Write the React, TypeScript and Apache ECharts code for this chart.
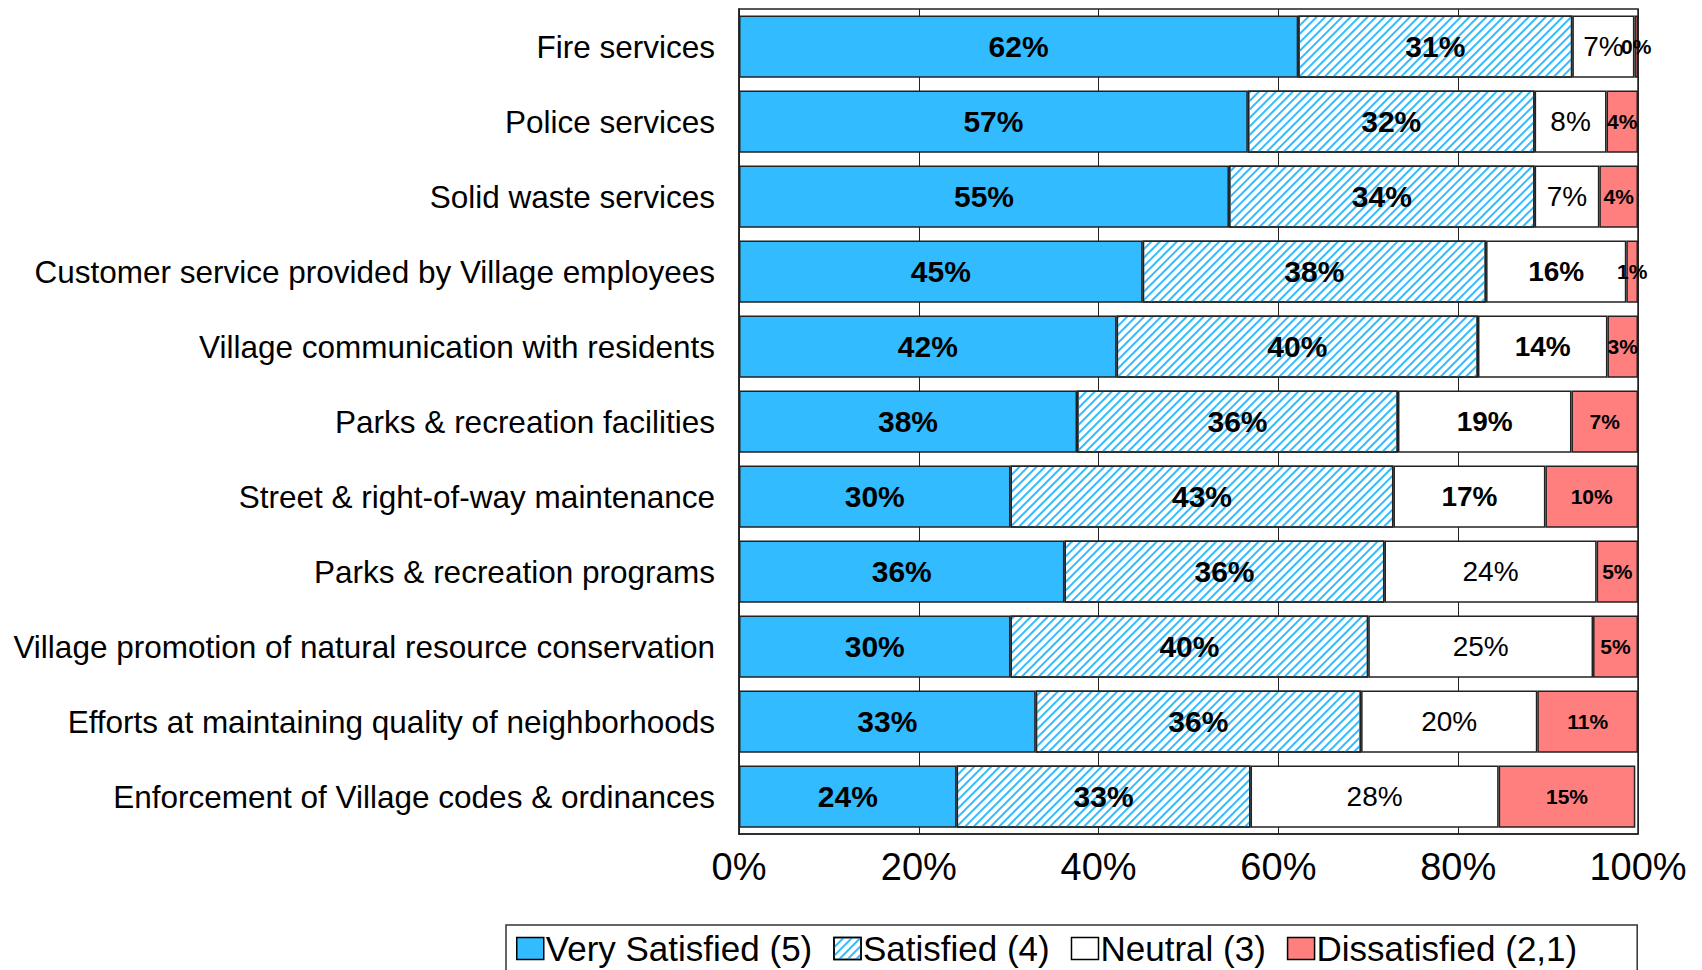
import React, { useEffect, useRef } from "react";
import * as echarts from "echarts";

const categories = [
  "Fire services",
  "Police services",
  "Solid waste services",
  "Customer service provided by Village employees",
  "Village communication with residents",
  "Parks & recreation facilities",
  "Street & right-of-way maintenance",
  "Parks & recreation programs",
  "Village promotion of natural resource conservation",
  "Efforts at maintaining quality of neighborhoods",
  "Enforcement of Village codes & ordinances",
];

const verySatisfied = [62.2, 56.6, 54.5, 44.9, 42.0, 37.6, 30.2, 36.2, 30.2, 33.0, 24.2];
const satisfied = [30.5, 31.9, 34.0, 38.2, 40.2, 35.7, 42.6, 35.6, 39.8, 36.2, 32.7];
const neutral = [6.9, 8.0, 7.2, 15.6, 14.4, 19.3, 16.9, 23.6, 25.0, 19.6, 27.6];
const dissatisfied = [0.4, 3.5, 4.3, 1.3, 3.4, 7.4, 10.3, 4.6, 5.0, 11.2, 15.2];

const seriesNames = ["Very Satisfied (5)", "Satisfied (4)", "Neutral (3)", "Dissatisfied (2,1)"];
const xTicks = [0, 20, 40, 60, 80, 100];

const boldNeutralRows = [3, 4, 5, 6];

const FONT = "'Liberation Sans', Arial, sans-serif";
const BLUE = "#33bbff";
const RED = "#ff7f7f";

export default function App() {
  const ref = useRef<HTMLDivElement>(null);
  useEffect(() => {
    if (!ref.current) return;
    const chart = echarts.init(ref.current, null, { renderer: "svg" });
    const pct = (p: any) => Math.round(p.value) + "%";
    const border = { borderColor: "#222", borderWidth: 1.5 };
    const option: any = {
      animation: false,
      backgroundColor: "#fff",
      textStyle: { fontFamily: FONT, color: "#000" },
      grid: {
        left: 739,
        right: 64,
        top: 9,
        bottom: 136,
        show: true,
        borderColor: "#222",
        borderWidth: 1.5,
        backgroundColor: "transparent",
      },
      legend: {
        data: seriesNames,
        left: 506,
        top: 925,
        orient: "horizontal",
        icon: "rect",
        itemWidth: 27,
        itemHeight: 22,
        itemGap: 21,
        padding: [6, 60, 10, 10],
        borderColor: "#333",
        borderWidth: 1.5,
        textStyle: { fontFamily: FONT, fontSize: 35, color: "#000", padding: [0, 0, 0, -3] },
        itemStyle: { borderColor: "#000", borderWidth: 1.5 },
      },
      xAxis: {
        type: "value",
        min: 0,
        max: 100,
        interval: 20,
        axisLine: { show: true, lineStyle: { color: "#222", width: 1.5 } },
        axisTick: { show: false },
        splitLine: { show: true, lineStyle: { color: "#222", width: 1 } },
        axisLabel: {
          margin: 14,
          fontFamily: FONT,
          fontSize: 38,
          color: "#000",
          formatter: (v: number) => (xTicks.includes(v) ? v + "%" : ""),
        },
      },
      yAxis: {
        type: "category",
        data: categories,
        inverse: true,
        axisLine: { show: true, lineStyle: { color: "#222", width: 1.5 } },
        axisTick: { show: false },
        axisLabel: { margin: 24, fontFamily: FONT, fontSize: 31.5, color: "#000" },
      },
      series: [
        {
          name: seriesNames[0],
          type: "bar",
          stack: "all",
          barCategoryGap: "17%",
          data: verySatisfied,
          itemStyle: { color: BLUE, ...border },
          label: { show: true, position: "inside", formatter: pct, fontFamily: FONT, fontSize: 30, fontWeight: "bold", color: "#000" },
        },
        {
          name: seriesNames[1],
          type: "bar",
          stack: "all",
          data: satisfied,
          itemStyle: {
            color: "#ffffff",
            ...border,
            decal: {
              symbol: "rect",
              symbolSize: 1,
              dashArrayX: [[1, 0]],
              dashArrayY: [1.3, 3.2],
              rotation: -Math.PI / 4,
              color: BLUE,
            },
          },
          label: { show: true, position: "inside", formatter: pct, fontFamily: FONT, fontSize: 30, fontWeight: "bold", color: "#000" },
        },
        {
          name: seriesNames[2],
          type: "bar",
          stack: "all",
          data: neutral.map((v, i) => ({
            value: v,
            label: { fontWeight: boldNeutralRows.includes(i) ? "bold" : "normal" },
          })),
          itemStyle: { color: "#ffffff", ...border },
          label: { show: true, position: "inside", formatter: pct, fontFamily: FONT, fontSize: 28, color: "#000" },
        },
        {
          name: seriesNames[3],
          type: "bar",
          stack: "all",
          data: dissatisfied,
          itemStyle: { color: RED, ...border },
          label: { show: true, position: "inside", formatter: pct, fontFamily: FONT, fontSize: 21, fontWeight: "bold", color: "#000" },
        },
      ],
    };
    chart.setOption(option);
    return () => chart.dispose();
  }, []);
  return (
    <div
      ref={ref}
      style={{ position: "fixed", left: 0, top: 0, width: 1702, height: 970, background: "#fff" }}
    />
  );
}
